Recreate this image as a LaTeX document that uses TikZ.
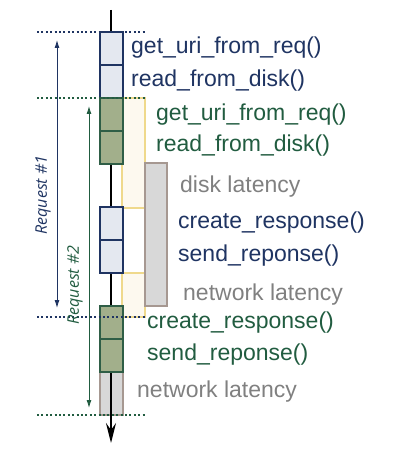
\documentclass[tikz,border=0pt]{standalone}
\usepackage{fontspec}
\setmainfont{Liberation Sans}
\newfontfamily\reqfont{Open Sans}
\usetikzlibrary{arrows.meta}

\definecolor{navy}{HTML}{1F3462}
\definecolor{bluefill}{HTML}{E4E8F0}
\definecolor{forest}{HTML}{215C40}
\definecolor{greenedge}{HTML}{2F5E46}
\definecolor{greenfill}{HTML}{A2AF8B}
\definecolor{waitfill}{HTML}{FDF9EF}
\definecolor{waitedge}{HTML}{EFD98C}
\definecolor{latfill}{HTML}{D8D8D8}
\definecolor{latedge}{HTML}{A69891}
\definecolor{lattext}{HTML}{808080}

\tikzset{
  blubox/.style={draw=navy, fill=bluefill, line width=2pt, minimum width=23pt, minimum height=33pt, inner sep=0pt},
  grnbox/.style={draw=greenedge, fill=greenfill, line width=2pt, minimum width=23pt, minimum height=33pt, inner sep=0pt},
  waitbox/.style={draw=waitedge, fill=waitfill, line width=1.5pt},
  latbox/.style={draw=latedge, fill=latfill, line width=1.5pt},
  fn/.style={anchor=west, inner sep=0pt, font=\fontsize{23}{27}\selectfont},
  blutxt/.style={fn, text=navy},
  grntxt/.style={fn, text=forest},
  lattxt/.style={fn, text=lattext},
  reqlabel/.style={rotate=90, inner sep=0pt, font=\reqfont\itshape\fontsize{16}{19}\selectfont},
  sep/.style={line width=2pt, dash pattern=on 2pt off 2.4pt},
  reqarrow/.style={line width=0.9pt, {Latex[length=8pt,width=5pt]}-{Latex[length=8pt,width=5pt]}}
}

\begin{document}
\begin{tikzpicture}[x=1pt,y=-1pt]
  \useasboundingbox (0,0) rectangle (402,462);

  % waiting periods of request #1
  \draw[waitbox] (122,98) rectangle (145,208);
  \draw[waitbox] (122,273) rectangle (145,317);
  \draw[latbox] (145,163) rectangle (167,306);
  \draw[latbox] (100,372) rectangle (123,415);

  % time line
  \coordinate (start) at (111,10);
  \coordinate (end) at (111,443);
  \draw[line width=2pt, -{Stealth[length=20pt,width=10pt,inset=7pt]}] (start) -- (end);

  % request #1
  \node[blubox] (uri1) at (111.5,48.5) {};
  \node[blubox] (read1) at (111.5,81.5) {};
  \node[blubox] (resp1) at (111.5,223.5) {};
  \node[blubox] (send1) at (111.5,256.5) {};

  % request #2
  \node[grnbox] (uri2) at (111.5,114.5) {};
  \node[grnbox] (read2) at (111.5,147.5) {};
  \node[grnbox] (resp2) at (111.5,322.5) {};
  \node[grnbox] (send2) at (111.5,355.5) {};

  % dotted marks
  \draw[sep, navy] (37,32) -- (145,32);
  \draw[sep, forest] (37,98) -- (145,98);
  \draw[sep, navy] (37,317) -- (145,317);
  \draw[sep, forest] (37,415) -- (145,415);

  % labels
  \node[blutxt] (l1) at (131,48) {get\_uri\_from\_req()};
  \node[blutxt] (l2) at (131,81) {read\_from\_disk()};
  \node[grntxt] (l3) at (156,115) {get\_uri\_from\_req()};
  \node[grntxt] (l4) at (156,146) {read\_from\_disk()};
  \node[lattxt] (l5) at (180,187) {disk latency};
  \node[blutxt] (l6) at (178,223) {create\_response()};
  \node[blutxt] (l7) at (178,256) {send\_reponse()};
  \node[lattxt] (l8) at (183,295) {network latency};
  \node[grntxt] (l9) at (147,323) {create\_response()};
  \node[grntxt] (l10) at (147,355) {send\_reponse()};
  \node[lattxt] (l11) at (137,392) {network latency};

  % request spans
  \coordinate (r1top) at (57,40);
  \coordinate (r1bot) at (57,308);
  \coordinate (r2top) at (89,106);
  \coordinate (r2bot) at (89,408);
  \draw[reqarrow, navy] (r1top) -- (r1bot);
  \draw[reqarrow, forest] (r2top) -- (r2bot);
  \node[reqlabel, text=navy] (req1) at (43,195) {Request \#1};
  \node[reqlabel, text=forest] (req2) at (75,285) {Request \#2};
\end{tikzpicture}
\end{document}
